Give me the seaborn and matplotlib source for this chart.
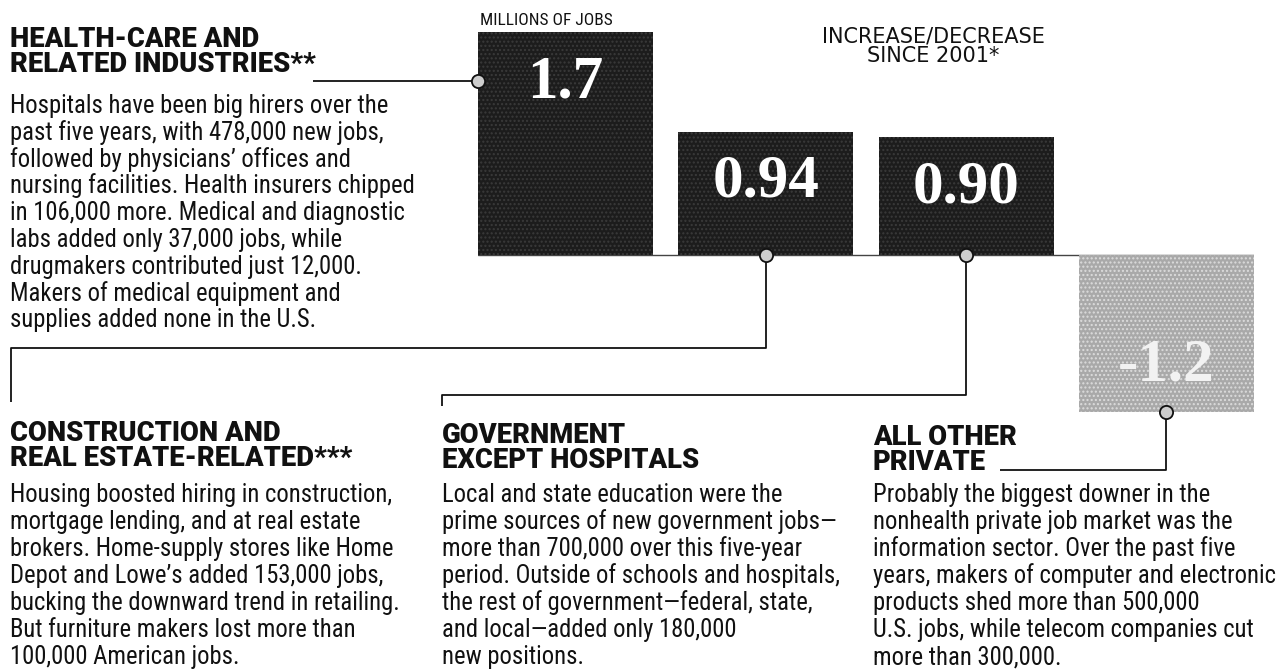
import matplotlib
matplotlib.use("Agg")
import matplotlib.pyplot as plt
from matplotlib import font_manager
import seaborn as sns

# --- data ---
categories = ["Health care", "Construction & real estate", "Government except hospitals", "All other private"]
values = [1.7, 0.94, 0.90, -1.2]
value_labels = ["1.7", "0.94", "0.90", "-1.2"]
bar_colors = ["#1c1c1c", "#1c1c1c", "#1c1c1c", "#a9a9a9"]

health_head = ["HEALTH-CARE AND", "RELATED INDUSTRIES**"]
health_body = [
    "Hospitals have been big hirers over the",
    "past five years, with 478,000 new jobs,",
    "followed by physicians\u2019 offices and",
    "nursing facilities. Health insurers chipped",
    "in 106,000 more. Medical and diagnostic",
    "labs added only 37,000 jobs, while",
    "drugmakers contributed just 12,000.",
    "Makers of medical equipment and",
    "supplies added none in the U.S.",
]
constr_head = ["CONSTRUCTION AND", "REAL ESTATE-RELATED***"]
constr_body = [
    "Housing boosted hiring in construction,",
    "mortgage lending, and at real estate",
    "brokers. Home-supply stores like Home",
    "Depot and Lowe\u2019s added 153,000 jobs,",
    "bucking the downward trend in retailing.",
    "But furniture makers lost more than",
    "100,000 American jobs.",
]
gov_head = ["GOVERNMENT", "EXCEPT HOSPITALS"]
gov_body = [
    "Local and state education were the",
    "prime sources of new government jobs\u2014",
    "more than 700,000 over this five-year",
    "period. Outside of schools and hospitals,",
    "the rest of government\u2014federal, state,",
    "and local\u2014added only 180,000",
    "new positions.",
]
other_head = ["ALL OTHER", "PRIVATE"]
other_body = [
    "Probably the biggest downer in the",
    "nonhealth private job market was the",
    "information sector. Over the past five",
    "years, makers of computer and electronic",
    "products shed more than 500,000",
    "U.S. jobs, while telecom companies cut",
    "more than 300,000.",
]

W, H = 1282, 671

sns.set_theme(style="white")

# pick fonts that are really installed
installed = {f.name for f in font_manager.fontManager.ttflist}
def pick(*names):
    for n in names:
        if n in installed:
            return n
    return "DejaVu Sans"

body_font = pick("Roboto Condensed", "Liberation Sans Narrow", "Roboto")
condensed = body_font != "Roboto"
head_font = pick("Roboto", "Liberation Sans")
num_font = pick("DejaVu Serif Condensed", "Liberation Serif", "DejaVu Serif")
num_size = 40 if num_font == "DejaVu Serif Condensed" else 44
plt.rcParams["font.family"] = [body_font, "DejaVu Sans"]

body_size = 17.7 if condensed else 15.3

fig = plt.figure(figsize=(W / 100, H / 100), dpi=100)
fig.patch.set_facecolor("white")

# bar axes placed in pixel terms
ax = fig.add_axes([478 / W, 1 - 412 / H, (1254 - 478) / W, (412 - 32) / H])
sns.barplot(x=categories, y=values, hue=categories, palette=bar_colors, legend=False,
            width=0.875, saturation=1, ax=ax)
ax.set_xlim(-0.4375, 3.4375)
ax.set_ylim(min(values), max(values))
ax.axis("off")
ax.axhline(0, color="#444444", lw=1.0, zorder=0.5)

# halftone-ish texture
for p, c in zip(ax.patches, bar_colors):
    p.set_linewidth(0)
    p.set_edgecolor("#3a3a3a" if c == "#1c1c1c" else "#dcdcdc")
    p.set_hatch("....")

for i, (v, lab) in enumerate(zip(values, value_labels)):
    off = -47 if v > 0 else 23
    ax.annotate(lab, (i, v), xytext=(0, off), textcoords="offset points",
                ha="center", va="baseline", fontsize=num_size, fontweight="bold",
                family=num_font, color="white" if v > 0 else "#f2f2f2", zorder=5)

# overlay in pixel coords (y down)
over = fig.add_axes([0, 0, 1, 1], zorder=3)
over.set_xlim(0, W)
over.set_ylim(H, 0)
over.axis("off")

def to_px(x, y):
    dx, dy = ax.transData.transform((x, y))
    return dx, H - dy

def block(x, head, body, head_y, body_y, pitch):
    for k, s in enumerate(head):
        over.text(x, head_y + k * 25, s, family=head_font, fontweight="black",
                  fontsize=19.7, va="baseline", ha="left", color="#111111")
    for k, s in enumerate(body):
        over.text(x, body_y + k * pitch, s, family=body_font, fontsize=body_size,
                  va="baseline", ha="left", color="#111111")

block(10, health_head, health_body, 47, 113, 26.8)
block(10, constr_head, constr_body, 441, 502, 27)
block(442, gov_head, gov_body, 443, 502, 27)
block(873, other_head, other_body, 445, 502, 27)

over.text(480, 25, "MILLIONS OF JOBS", family=body_font, fontsize=12.5 if condensed else 10.5,
          va="baseline", ha="left", color="#111111")
over.text(933, 42, "INCREASE/DECREASE", family="DejaVu Sans", fontsize=15,
          va="baseline", ha="center", color="#111111")
over.text(933, 62, "SINCE 2001*", family="DejaVu Sans", fontsize=15,
          va="baseline", ha="center", color="#111111")

# connectors
line_kw = dict(color="#111111", lw=1.3, solid_capstyle="butt", zorder=4)
dot_kw = dict(marker="o", ms=9.5, mfc="#cdcdcd", mec="#111111", mew=1.3, zorder=6, ls="none")

c0 = to_px(-0.4375, values[0] * 0.78)
over.plot([313, c0[0]], [c0[1], c0[1]], **line_kw)
over.plot(*c0, **dot_kw)

c1 = to_px(1, 0)
over.plot([c1[0], c1[0], 11, 11], [c1[1], 348, 348, 402], **line_kw)
over.plot(*c1, **dot_kw)

c2 = to_px(2, 0)
over.plot([c2[0], c2[0], 442, 442], [c2[1], 395, 395, 406], **line_kw)
over.plot(*c2, **dot_kw)

c3 = to_px(3, values[3])
over.plot([c3[0], c3[0], 1000], [c3[1], 470, 470], **line_kw)
over.plot(*c3, **dot_kw)

fig.savefig("out.png", dpi=100, facecolor="white")
